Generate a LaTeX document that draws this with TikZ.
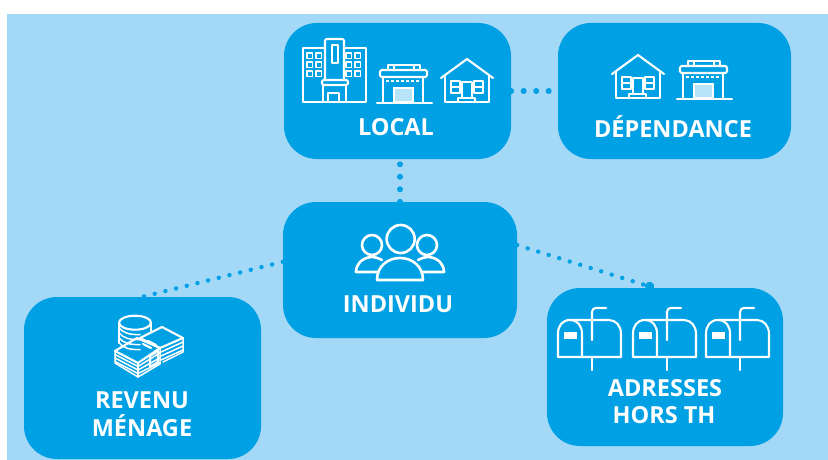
\documentclass[tikz,border=0pt]{standalone}
\usepackage{fontspec}
\setmainfont{Open Sans}
\usetikzlibrary{arrows.meta}
\definecolor{bgblue}{RGB}{163,217,247}
\definecolor{boxblue}{RGB}{0,160,228}
\tikzset{
  boxnode/.style={fill=boxblue,rounded corners=33pt,inner sep=0pt,minimum width=#1},
  lbl/.style={text=white,font=\fontsize{23.5}{23.5}\selectfont\bfseries,inner sep=0pt},
  icon/.style={draw=white,line width=2.1pt,line join=round,line cap=round},
  thin icon/.style={draw=white,line width=1.5pt,line join=round,line cap=round},
  conn/.style={draw=boxblue,line width=4.4pt,line cap=round,dash pattern=on 0pt off 11pt},
  connb/.style={draw=boxblue,line width=6pt,line cap=round,dash pattern=on 0pt off 12.5pt},
  storeicon/.pic={
    \draw[icon] (377,103)--(432,103);
    \draw[icon] (383,77)--(383,103) (423,77)--(423,103);
    \draw[icon,rounded corners=1.5pt] (380,70) rectangle (427,77);
    \draw[icon] (388,70)--(388,65)--(420,65)--(420,70) (394,65)--(394,70) (414,65)--(414,70);
    \draw[white,line width=2.4pt,dash pattern=on 2.5pt off 2.5pt] (386,81)--(421,81);
    \fill[white,opacity=.72] (394,88) rectangle (413,102);
    \draw[white,line width=1.2pt] (394,88) rectangle (413,102);
  },
  houseicon/.pic={
    \draw[icon] (441,78)--(467,59)--(493,78);
    \draw[icon] (445,76)--(445,102)--(489,102)--(489,76);
    \draw[icon] (462,98)--(462,82)--(472,82)--(472,98);
    \draw[thin icon] (451,81) rectangle (460,93) (451,87)--(460,87);
    \draw[thin icon] (474,81) rectangle (483,93) (474,87)--(483,87);
    \draw[thin icon] (458,98) rectangle (475,102);
  },
  mailicon/.pic={
    \draw[icon] (570,320) .. controls (562,320) and (558,326) .. (558,334) -- (558,357) -- (621,357) -- (621,334) .. controls (621,326) and (616,320) .. (609,320) -- (570,320);
    \draw[icon] (570,320) .. controls (578,320) and (582,326) .. (582,334) -- (582,357);
    \draw[icon] (592,357)--(592,370);
    \draw[icon] (592,340)--(592,312) .. controls (592,309) and (594,308) .. (596,308)--(606,308);
    \fill[white] (564,332) rectangle (577,339);
  },
}
\begin{document}
\begin{tikzpicture}[x=1pt,y=-1pt]
\useasboundingbox (0,0) rectangle (828,460);
\fill[white] (0,0) rectangle (828,460);
\fill[bgblue] (7,14) rectangle (828,460);
% boxes
\node[boxnode=227pt,minimum height=136pt] (local) at (397.5,91) {};
\node[boxnode=233pt,minimum height=136pt] (dep) at (674.5,91) {};
\node[boxnode=234pt,minimum height=136pt] (indiv) at (400,270) {};
\node[boxnode=237pt,minimum height=162pt] (rev) at (142.5,378) {};
\node[boxnode=236pt,minimum height=158pt] (addr) at (665,367) {};
% connectors
\draw[connb] (local.east) -- (dep.west);
\draw[connb] (indiv.north) -- (indiv.north |- local.south);
\draw[conn] (indiv.176) -- (rev.north);
\draw[conn,-{Circle[length=9pt,width=9pt]}] (indiv.12) -- (addr.98.5);
% labels
\node[lbl] (tlocal) at (396,127) {LOCAL};
\node[lbl] (tdep) at (673,127) {DÉPENDANCE};
\node[lbl] (tind) at (398,304) {INDIVIDU};
\node[lbl] (trev) at (142,400) {REVENU};
\node[lbl] (tmen) at (142,426) {MÉNAGE};
\node[lbl] (tadr) at (665,388) {ADRESSES};
\node[lbl] (thors) at (664,415) {HORS TH};
% building
\draw[icon] (325,48)--(303,48)--(303,102)--(366,102)--(366,48)--(344,48);
\draw[icon,rounded corners=2pt] (325,80)--(325,39)--(344,39)--(344,80);
\draw[icon] (332,45) rectangle (338,63);
\draw[icon,rounded corners=2pt] (322,80) rectangle (348,85);
\draw[icon] (323,85)--(323,102) (346,85)--(346,102);
\draw[icon] (328,102)--(328,93)--(339,93)--(339,102);
\foreach \xx in {307,316,346,355}
  \foreach \yy in {53,62,71}
    \draw[thin icon] (\xx,\yy) rectangle ++(5.5,5.5);
\pic at (0,0) {storeicon};
\pic at (0,0) {houseicon};
\pic at (300,-4) {storeicon};
\pic at (171,-4) {houseicon};
% people
\draw[icon,line width=2.6pt] (400.7,239) circle (14);
\draw[icon,line width=2.6pt] (372,245) circle (10);
\draw[icon,line width=2.6pt] (427,245) circle (10);
\draw[icon,line width=2.6pt] (377,280) .. controls (377,266) and (388,258) .. (400,258) .. controls (412,258) and (423,266) .. (423,280) -- cycle;
\draw[icon,line width=2.6pt] (377,272) -- (356,272) .. controls (356,264) and (362,258) .. (371,257) .. controls (375,257) and (378,258) .. (382,260);
\draw[icon,line width=2.6pt] (423,272) -- (444,272) .. controls (444,264) and (438,258) .. (429,257) .. controls (425,257) and (422,258) .. (418,260);
% money
\draw[icon] (135,322.7) ellipse (16 and 7);
\draw[thin icon] (119,322.7)--(119,343) (151,322.7)--(151,331);
\foreach \yy in {5,10,15,20}
  \draw[thin icon] (119,322.7+\yy) .. controls (123,328+\yy) and (130,330+\yy) .. (140,329.5+\yy);
\draw[icon] (140,338)--(162,327)--(183,338)--(160,348)--cycle;
\draw[thin icon] (183,338)--(183,352)--(163,362);
\foreach \yy in {4,8,12}
  \draw[thin icon] (183,338+\yy)--(161,348+\yy);
\draw[icon] (115,351)--(137,338)--(160,348)--(138,363)--cycle;
\draw[thin icon] (115,351)--(115,363)--(138,377)--(160,364)--(160,348);
\draw[thin icon] (138,363)--(138,377);
\foreach \yy in {3.5,7,10.5}{
  \draw[thin icon] (115,351+\yy)--(138,363+\yy)--(160,348+\yy*1.4);
}
\draw[icon] (148,341)--(156,345) (143,344)--(151,348);
\draw[icon] (150,356)--(158,351)--(158,362)--(150,367)--cycle;
% mailboxes
\pic at (0,0) {mailicon};
\pic at (75,0) {mailicon};
\pic at (148,0) {mailicon};
\end{tikzpicture}
\end{document}
